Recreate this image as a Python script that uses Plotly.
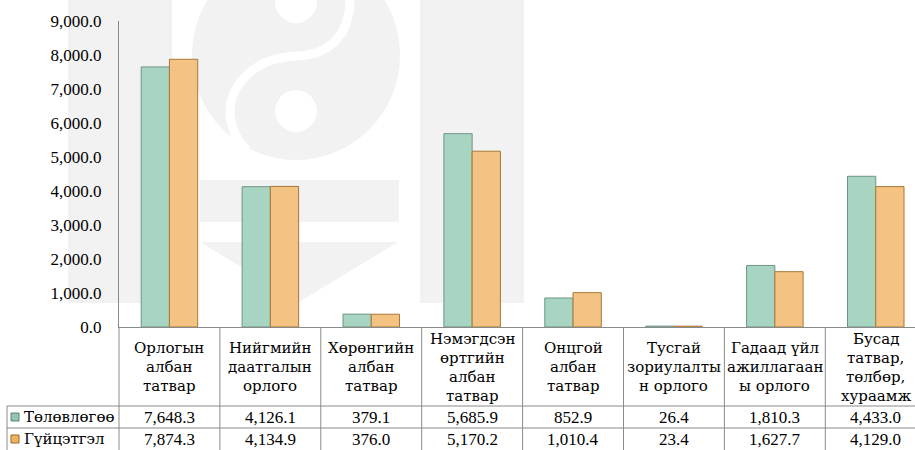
import plotly.graph_objects as go

# ---------------- data ----------------
categories = [
    "Орлогын\nалбан\nтатвар",
    "Нийгмийн\nдаатгалын\nорлого",
    "Хөрөнгийн\nалбан\nтатвар",
    "Нэмэгдсэн\nөртгийн\nалбан\nтатвар",
    "Онцгой\nалбан\nтатвар",
    "Тусгай\nзориулалты\nн орлого",
    "Гадаад үйл\nажиллагаан\nы орлого",
    "Бусад\nтатвар,\nтөлбөр,\nхураамж",
]
series_names = ["Төлөвлөгөө", "Гүйцэтгэл"]
plan = [7648.3, 4126.1, 379.1, 5685.9, 852.9, 26.4, 1810.3, 4433.0]
actual = [7874.3, 4134.9, 376.0, 5170.2, 1010.4, 23.4, 1627.7, 4129.0]
y_ticks = [0, 1000, 2000, 3000, 4000, 5000, 6000, 7000, 8000, 9000]
y_tick_labels = [f"{v:,.1f}" for v in y_ticks]

# ---------------- layout geometry ----------------
W, H = 915, 450
L, R, T, B = 119, 0, 21, 123
PW, PH = W - L - R, H - T - B
X_RANGE = [-0.5, 7.389]
FONT = "Liberation Serif, serif"
CYR_FONT = "DejaVu Serif"
LINE = "#8a8a8a"
WM = "#f2f2f2"

def xp(px):
    return (px - L) / PW

def yp(py):
    return (H - B - py) / PH

def cat_edge(v):
    return (v - X_RANGE[0]) / (X_RANGE[1] - X_RANGE[0])

xkeys = [c.replace("\n", " ") for c in categories]

fig = go.Figure()
fig.add_trace(go.Bar(
    x=xkeys, y=plan, name=series_names[0],
    marker=dict(color="#a7d5c1", line=dict(color="#6f9484", width=1)),
))
fig.add_trace(go.Bar(
    x=xkeys, y=actual, name=series_names[1],
    marker=dict(color="#f4c384", line=dict(color="#a87835", width=1)),
))

shapes = []
# ---- watermark logo (light gray) ----
def rect(x0, y0, x1, y1, color):
    return dict(type="rect", xref="paper", yref="paper", x0=xp(x0), x1=xp(x1),
                y0=yp(y1), y1=yp(y0), fillcolor=color, line=dict(width=0), layer="below")

shapes.append(rect(68, -5, 172, 303, WM))
shapes.append(rect(420, -5, 524, 303, WM))
shapes.append(dict(type="circle", xref="paper", yref="paper",
                   x0=xp(192), x1=xp(400), y0=yp(160), y1=yp(-50),
                   fillcolor=WM, line=dict(width=0), layer="below"))
shapes.append(rect(200, 180, 399, 222, WM))
tri = f"M {xp(200)},{yp(242)} L {xp(398)},{yp(242)} L {xp(299)},{yp(302)} Z"
shapes.append(dict(type="path", xref="paper", yref="paper", path=tri,
                   fillcolor=WM, line=dict(width=0), layer="below"))
# white yin-yang details
for cy in (2, 111):
    shapes.append(dict(type="circle", xref="paper", yref="paper",
                       x0=xp(275), x1=xp(317), y0=yp(cy + 21), y1=yp(cy - 21),
                       fillcolor="white", line=dict(width=0), layer="below"))
s_path = (f"M {xp(350)},{yp(-2)} C {xp(350)},{yp(35)} {xp(330)},{yp(55)} {xp(296)},{yp(56)} "
          f"C {xp(250)},{yp(58)} {xp(228)},{yp(90)} {xp(230)},{yp(115)} "
          f"C {xp(232)},{yp(132)} {xp(238)},{yp(142)} {xp(247)},{yp(150)}")
shapes.append(dict(type="path", xref="paper", yref="paper", path=s_path,
                   line=dict(color="white", width=9), layer="below"))

# ---- table grid ----
def hline(x0, x1, py):
    return dict(type="line", xref="paper", yref="paper", x0=xp(x0), x1=xp(x1),
                y0=yp(py), y1=yp(py), line=dict(color=LINE, width=1))

def vline_paper(xpaper, py0, py1):
    return dict(type="line", xref="paper", yref="paper", x0=xpaper, x1=xpaper,
                y0=yp(py0), y1=yp(py1), line=dict(color=LINE, width=1))

row_top, row_mid, row_bot = 406, 428, 452
shapes.append(hline(7, W, row_top))
shapes.append(hline(7, W, row_mid))
shapes.append(hline(7, W, row_bot))
shapes.append(vline_paper(xp(7), row_top, row_bot))
shapes.append(vline_paper(0, 327, row_bot))
for k in range(len(categories) - 1):
    shapes.append(vline_paper(cat_edge(k + 0.5), 327, row_bot))

# legend swatches in the table
sw_colors = [("#93c4af", "#5f8474"), ("#f0b460", "#9a6a28")]
for r, (fc, lc) in enumerate(sw_colors):
    cy = 417 if r == 0 else 439
    shapes.append(dict(type="rect", xref="paper", yref="paper",
                       x0=xp(11), x1=xp(19), y0=yp(cy + 4), y1=yp(cy - 4),
                       fillcolor=fc, line=dict(color=lc, width=1)))

annotations = []
# header labels, one annotation per line
LS = 19
for i, lab in enumerate(categories):
    lines = lab.split("\n")
    n = len(lines)
    for j, t in enumerate(lines):
        py = 367 + (j - (n - 1) / 2) * LS
        annotations.append(dict(x=xkeys[i], xref="x", y=yp(py), yref="paper",
                                text=t, showarrow=False, xanchor="center", yanchor="middle",
                                font=dict(family=CYR_FONT, size=15, color="black")))
# value rows
for r, vals in enumerate([plan, actual]):
    py = 417 if r == 0 else 439
    annotations.append(dict(x=xp(22), xref="paper", y=yp(py), yref="paper",
                            text=series_names[r], showarrow=False, xanchor="left",
                            yanchor="middle", font=dict(family=CYR_FONT, size=15, color="black")))
    for i, v in enumerate(vals):
        annotations.append(dict(x=xkeys[i], xref="x", y=yp(py), yref="paper",
                                text=f"{v:,.1f}", showarrow=False, xanchor="center",
                                yanchor="middle", font=dict(family=FONT, size=17, color="black")))

fig.update_layout(
    width=W, height=H,
    margin=dict(l=L, r=R, t=T, b=B, pad=0),
    paper_bgcolor="white", plot_bgcolor="rgba(0,0,0,0)",
    font=dict(family=FONT, size=17, color="black"),
    barmode="group", bargap=0.44, bargroupgap=0,
    showlegend=False,
    shapes=shapes, annotations=annotations,
    xaxis=dict(type="category", range=X_RANGE, showticklabels=False, ticks="",
               showline=True, linecolor=LINE, linewidth=1, showgrid=False, zeroline=False),
    yaxis=dict(range=[0, 9000], tickvals=y_ticks, ticktext=y_tick_labels,
               showline=True, linecolor=LINE, linewidth=1, showgrid=False, zeroline=False,
               ticks="", ticklabelstandoff=13,
               tickfont=dict(family=FONT, size=17, color="black")),
)

fig.write_html("out.html", config={"displayModeBar": False},
               post_script="document.body.style.margin='0px';document.body.style.padding='0px';")
